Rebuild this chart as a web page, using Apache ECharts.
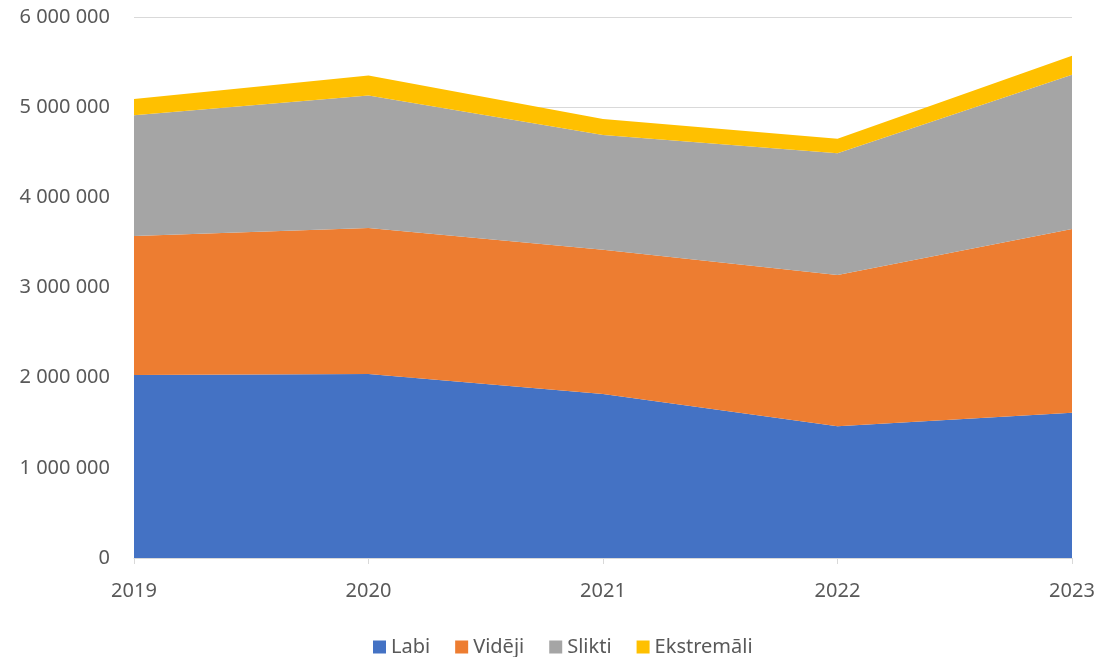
<!DOCTYPE html>
<html>
<head>
<meta charset="utf-8">
<script src="https://cdn.jsdelivr.net/npm/echarts@6/dist/echarts.min.js"></script>
<style>
  html, body { margin: 0; padding: 0; background: #fff; }
  #chart { width: 1099px; height: 657px; }
</style>
</head>
<body>
<div id="chart"></div>
<script>
const years = ['2019', '2020', '2021', '2022', '2023']
const labi = [2030000, 2040000, 1820000, 1460000, 1610000]
const videji = [1540000, 1620000, 1600000, 1680000, 2040000]
const slikti = [1340000, 1470000, 1270000, 1350000, 1710000]
const ekstremali = [180000, 220000, 180000, 160000, 210000]

const font = 'Noto Sans'
const textColor = '#595959'

// skaitļi ar atstarpēm kā tūkstošu atdalītāju
const fmt = v => String(v).replace(/\B(?=(\d{3})+(?!\d))/g, ' ')

const mkSeries = (name, data, color) => ({
  name,
  type: 'line',
  stack: 'total',
  data,
  symbol: 'none',
  lineStyle: { width: 0 },
  areaStyle: { color, opacity: 1 },
  itemStyle: { color }
})

const myChart = echarts.init(document.getElementById('chart'))

myChart.setOption({
  animation: false,
  backgroundColor: '#fff',
  textStyle: { fontFamily: font },
  grid: { left: 134, right: 27, top: 17, bottom: 99 },
  legend: {
    top: 632,
    left: 368,
    icon: 'rect',
    itemWidth: 13,
    itemHeight: 13,
    itemGap: 25,
    textStyle: { color: textColor, fontSize: 20, fontFamily: font }
  },
  xAxis: {
    type: 'category',
    data: years,
    boundaryGap: false,
    axisLine: { lineStyle: { color: '#d9d9d9' } },
    axisTick: { show: true, length: 6, lineStyle: { color: '#d9d9d9' } },
    axisLabel: { color: textColor, fontSize: 20, margin: 23, fontFamily: font }
  },
  yAxis: {
    type: 'value',
    min: 0,
    max: 6000000,
    interval: 1000000,
    axisLine: { show: false },
    axisTick: { show: false },
    splitLine: { lineStyle: { color: '#d9d9d9' } },
    axisLabel: { color: textColor, fontSize: 20, margin: 24, formatter: fmt, fontFamily: font }
  },
  series: [
    mkSeries('Labi', labi, '#4472c4'),
    mkSeries('Vidēji', videji, '#ed7d31'),
    mkSeries('Slikti', slikti, '#a5a5a5'),
    mkSeries('Ekstremāli', ekstremali, '#ffc000')
  ]
})
</script>
</body>
</html>
